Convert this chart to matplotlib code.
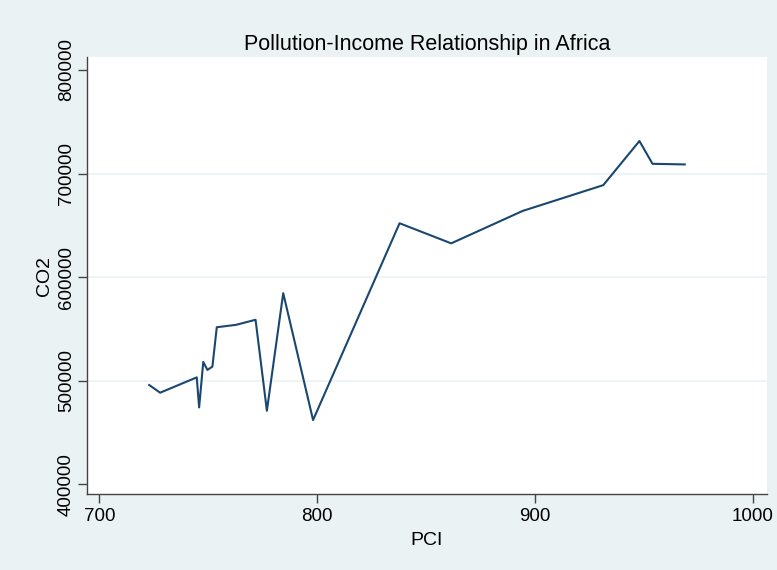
import matplotlib
matplotlib.use('Agg')
import matplotlib.pyplot as plt

# per capita income vs CO2
pci = [722.9, 727.9, 744.7, 745.8, 747.7, 749.6, 751.9, 753.9, 762.7, 771.7,
       776.9, 784.4, 798.1, 837.8, 861.5, 894.3, 931.3, 947.9, 953.9, 968.7]
co2 = [495800, 488400, 503200, 474200, 518100, 510400, 513600, 551600, 553900, 558800,
       471000, 584500, 462000, 652000, 632600, 663900, 688800, 731400, 709400, 708800]
xticks = [700, 800, 900, 1000]
yticks = [400000, 500000, 600000, 700000, 800000]

plt.rcParams['font.family'] = ['Liberation Sans', 'DejaVu Sans']
bg = '#EAF2F3'

fig = plt.figure(figsize=(7.77, 5.70), dpi=100, facecolor=bg)
ax = fig.add_axes([0.1116, 0.1328, 0.8751, 0.7677])
ax.set_facecolor('white')

ax.plot(pci, co2, color='#1A476F', linewidth=1.5)

ax.set_xlim(694.2, 1006.3)
ax.set_ylim(390300, 812800)
ax.set_xticks(xticks)
ax.set_xticklabels([str(t) for t in xticks])
ax.set_yticks(yticks)
ax.set_yticklabels([str(t) for t in yticks], rotation=90, va='center')

# grid only on the inner ticks
for t in yticks[1:-1]:
    ax.axhline(t, color='#EAF2F3', linewidth=1.2, zorder=0)

for s in ['top', 'right']:
    ax.spines[s].set_visible(False)
for s in ['left', 'bottom']:
    ax.spines[s].set_color('#444444')
    ax.spines[s].set_linewidth(1.0)

ax.tick_params(axis='both', direction='out', length=6.5, width=1.0, color='#444444',
               labelsize=13.5, labelcolor='black')
ax.tick_params(axis='x', pad=3.5)
ax.tick_params(axis='y', pad=2)

ax.set_xlabel('PCI', fontsize=14, labelpad=5)
ax.set_ylabel('CO2', fontsize=14, labelpad=3.5)
ax.set_title('Pollution-Income Relationship in Africa', fontsize=15.5, pad=5)

fig.savefig('out.png', dpi=100, facecolor=bg)
